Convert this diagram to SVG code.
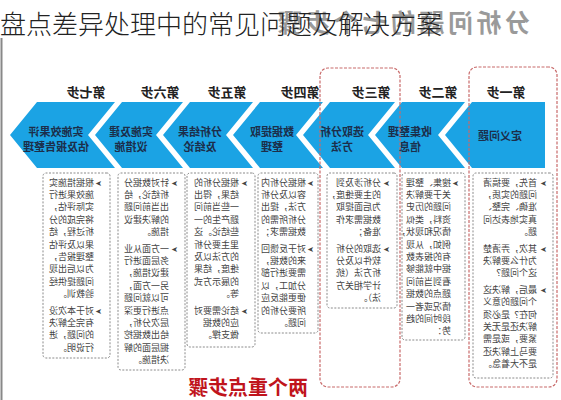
<svg xmlns="http://www.w3.org/2000/svg" width="561" height="400" viewBox="0 0 561 400">
<style>
.chev{fill:#1ba3e4}
.ct{font-family:"Noto Sans CJK SC","Noto Sans",sans-serif;font-size:11px;font-weight:bold;fill:#1c2e4a;text-anchor:middle}
.hd{font-family:"Noto Sans CJK SC","Noto Sans",sans-serif;font-size:13px;font-weight:bold;fill:#222;text-anchor:middle}
.box{fill:#fff;stroke:#8a8a8a;stroke-width:1;stroke-dasharray:2 1.5}
.red{fill:none;stroke:#c86a6a;stroke-width:1.2;stroke-dasharray:3 1.5}
.bt{font-family:"Noto Sans CJK SC","Noto Sans",sans-serif;font-size:9px;fill:#444}
.bl{font-family:"DejaVu Sans",sans-serif;font-size:8px;fill:#444}
</style>
<rect x="0" y="0" width="561" height="400" fill="#fff"/>
<g transform="matrix(-1 0 0 1 561 0)">
  <text x="31" y="32" font-family="'Noto Sans CJK SC','Noto Sans',sans-serif" font-size="25" font-weight="bold" fill="#9a9a9a" letter-spacing="3.5">分析问题的七个步骤</text>
  <g id="step1">
    <text class="hd" x="55" y="97">第一步</text>
    <polygon class="chev" points="16,102 89,102 116,135 89,168 16,168"/>
    <text class="ct" x="61" y="139.5">定义问题</text>
    <rect class="box" x="8" y="173" width="80" height="205" rx="3"/>
    <text class="bl" x="14" y="185.5">➤</text>
    <text class="bl" x="14" y="251.5">➤</text>
    <text class="bl" x="14" y="292.7">➤</text>
    <text class="bt"><tspan x="24" y="185.5">首先，要搞清</tspan><tspan x="24" y="197.9">问题的实质，</tspan><tspan x="24" y="210.3">准确、完整、</tspan><tspan x="24" y="222.7">真实地表达问</tspan><tspan x="24" y="235.1">题。</tspan><tspan x="24" y="251.5">其次，弄清楚</tspan><tspan x="24" y="263.9">为什么要解决</tspan><tspan x="24" y="276.3">这个问题？</tspan><tspan x="24" y="292.7">最后，解决这</tspan><tspan x="24" y="305.1">个问题的意义</tspan><tspan x="24" y="317.5">何在？是必须</tspan><tspan x="24" y="329.9">解决还是无关</tspan><tspan x="24" y="342.3">紧要，或是需</tspan><tspan x="24" y="354.7">要马上解决还</tspan><tspan x="24" y="367.1">是不大着急。</tspan></text>
  </g>
  <g id="step2">
    <text class="hd" x="123" y="97">第二步</text>
    <polygon class="chev" points="96,102 159,102 186,135 159,168 96,168 123,135"/>
    <text class="ct" x="151" y="136">收集整理</text>
    <text class="ct" x="151" y="151">信息</text>
    <rect class="box" x="96" y="173" width="63" height="167" rx="3"/>
    <text class="bl" x="102" y="185.5">➤</text>
    <text class="bt"><tspan x="110" y="185.5">搜集、整理</tspan><tspan x="110" y="197.9">关于要解决</tspan><tspan x="110" y="210.3">问题的历史</tspan><tspan x="110" y="222.7">资料，类似</tspan><tspan x="110" y="235.1">情况和现状，</tspan><tspan x="110" y="247.5">例如，从现</tspan><tspan x="110" y="259.9">有的报表数</tspan><tspan x="110" y="272.3">据中就能够</tspan><tspan x="110" y="284.7">看到当前问</tspan><tspan x="110" y="297.1">题点的数据</tspan><tspan x="110" y="309.5">情况或者一</tspan><tspan x="110" y="321.9">段时间的趋</tspan><tspan x="110" y="334.3">势：</tspan></text>
  </g>
  <g id="step3">
    <text class="hd" x="190" y="97">第三步</text>
    <polygon class="chev" points="166,102 231,102 258,135 231,168 166,168 193,135"/>
    <text class="ct" x="219" y="136">选取分析</text>
    <text class="ct" x="219" y="151">方法</text>
    <rect class="box" x="164" y="173" width="70" height="135" rx="3"/>
    <text class="bl" x="171" y="185.5">➤</text>
    <text class="bl" x="171" y="251.5">➤</text>
    <text class="bt"><tspan x="180" y="185.5">分析涉及到</tspan><tspan x="180" y="197.9">的主要维度，</tspan><tspan x="180" y="210.3">为后面提取</tspan><tspan x="180" y="222.7">数据需求作</tspan><tspan x="180" y="235.1">准备；</tspan><tspan x="180" y="251.5">选取的分析</tspan><tspan x="180" y="263.9">软件以及分</tspan><tspan x="180" y="276.3">析方法（统</tspan><tspan x="180" y="288.7">计学相关方</tspan><tspan x="180" y="301.1">法）。</tspan></text>
  </g>
  <g id="step4">
    <text class="hd" x="261" y="97">第四步</text>
    <polygon class="chev" points="238,102 301,102 328,135 301,168 238,168 265,135"/>
    <text class="ct" x="289" y="136">数据提取</text>
    <text class="ct" x="289" y="151">整理</text>
    <rect class="box" x="243" y="173" width="60" height="160" rx="3"/>
    <text class="bl" x="247" y="185.5">➤</text>
    <text class="bl" x="247" y="251.5">➤</text>
    <text class="bt"><tspan x="255" y="185.5">根据分析内</tspan><tspan x="255" y="197.9">容以及分析</tspan><tspan x="255" y="210.3">方法，提出</tspan><tspan x="255" y="222.7">分析所需的</tspan><tspan x="255" y="235.1">数据需求；</tspan><tspan x="255" y="251.5">对于反馈回</tspan><tspan x="255" y="263.9">来的数据，</tspan><tspan x="255" y="276.3">需要进行部</tspan><tspan x="255" y="288.7">分加工，以</tspan><tspan x="255" y="301.1">便更能反应</tspan><tspan x="255" y="313.5">所要分析的</tspan><tspan x="255" y="325.9">问题。</tspan></text>
  </g>
  <g id="step5">
    <text class="hd" x="334" y="97">第五步</text>
    <polygon class="chev" points="308,102 371,102 398,135 371,168 308,168 335,135"/>
    <text class="ct" x="361" y="136">分析结果</text>
    <text class="ct" x="361" y="151">及结论</text>
    <rect class="box" x="306" y="173" width="68" height="174" rx="3"/>
    <text class="bl" x="313" y="185.5">➤</text>
    <text class="bl" x="313" y="313.5">➤</text>
    <text class="bt"><tspan x="322" y="185.5">根据分析的</tspan><tspan x="322" y="197.9">结果，得出</tspan><tspan x="322" y="210.3">一些当前问</tspan><tspan x="322" y="222.7">题产生的一</tspan><tspan x="322" y="235.1">些结论。这</tspan><tspan x="322" y="247.5">里主要分析</tspan><tspan x="322" y="259.9">的方法以及</tspan><tspan x="322" y="272.3">维度，结果</tspan><tspan x="322" y="284.7">的展示方式</tspan><tspan x="322" y="297.1">等。</tspan><tspan x="322" y="313.5">结论需要对</tspan><tspan x="322" y="325.9">应的数据</tspan><tspan x="322" y="338.3">做支撑。</tspan></text>
  </g>
  <g id="step6">
    <text class="hd" x="401" y="97">第六步</text>
    <polygon class="chev" points="378,102 439,102 466,135 439,168 378,168 405,135"/>
    <text class="ct" x="430" y="136">实施及建</text>
    <text class="ct" x="430" y="151">议措施</text>
    <rect class="box" x="376" y="173" width="67" height="197" rx="3"/>
    <text class="bl" x="383" y="185.5">➤</text>
    <text class="bl" x="383" y="251.5">➤</text>
    <text class="bt"><tspan x="392" y="185.5">针对数据分</tspan><tspan x="392" y="197.9">析结论，给</tspan><tspan x="392" y="210.3">出当前问题</tspan><tspan x="392" y="222.7">的解决建议</tspan><tspan x="392" y="235.1">措施。</tspan><tspan x="392" y="251.5">一方面从业</tspan><tspan x="392" y="263.9">务层面进行</tspan><tspan x="392" y="276.3">建议措施，</tspan><tspan x="392" y="288.7">另一方面，</tspan><tspan x="392" y="301.1">可以就问题</tspan><tspan x="392" y="313.5">点进行更深</tspan><tspan x="392" y="325.9">层次分析，</tspan><tspan x="392" y="338.3">给出数据挖</tspan><tspan x="392" y="350.7">掘层面的解</tspan><tspan x="392" y="363.1">决措施。</tspan></text>
  </g>
  <g id="step7">
    <text class="hd" x="475" y="97">第七步</text>
    <polygon class="chev" points="446,102 524,102 551,135 524,168 446,168 473,135"/>
    <text class="ct" x="505" y="136">实施效果评</text>
    <text class="ct" x="505" y="151">估及报告整理</text>
    <rect class="box" x="451" y="173" width="67" height="185" rx="3"/>
    <text class="bl" x="459" y="185.5">➤</text>
    <text class="bl" x="459" y="313.5">➤</text>
    <text class="bt"><tspan x="467" y="185.5">根据措施实</tspan><tspan x="467" y="197.9">施效果进行</tspan><tspan x="467" y="210.3">实际评估，</tspan><tspan x="467" y="222.7">将完成的分</tspan><tspan x="467" y="235.1">析过程，结</tspan><tspan x="467" y="247.5">果以及评估</tspan><tspan x="467" y="259.9">整理报告，</tspan><tspan x="467" y="272.3">为以后出现</tspan><tspan x="467" y="284.7">问题提供经</tspan><tspan x="467" y="297.1">验教训。</tspan><tspan x="467" y="313.5">对于本次没</tspan><tspan x="467" y="325.9">有完全解决</tspan><tspan x="467" y="338.3">的问题，进</tspan><tspan x="467" y="350.7">行说明。</tspan></text>
  </g>
  <g id="connectors">
    <rect class="red" x="4" y="67" width="88" height="320" rx="8"/>
    <rect class="red" x="161" y="68" width="80" height="319" rx="8"/>
  </g>
  <text x="253" y="395" font-family="'Noto Sans CJK SC','Noto Sans',sans-serif" font-size="20" font-weight="bold" fill="#c0141c">两个重点步骤</text>
</g>
<line x1="1.5" y1="38" x2="1.5" y2="400" stroke="#888" stroke-width="2"/>
<text x="0" y="33.5" font-family="'Noto Sans CJK SC','Noto Sans',sans-serif" font-size="26" font-weight="300" fill="#222">盘点差异处理中的常见问题及解决方案</text>
</svg>
